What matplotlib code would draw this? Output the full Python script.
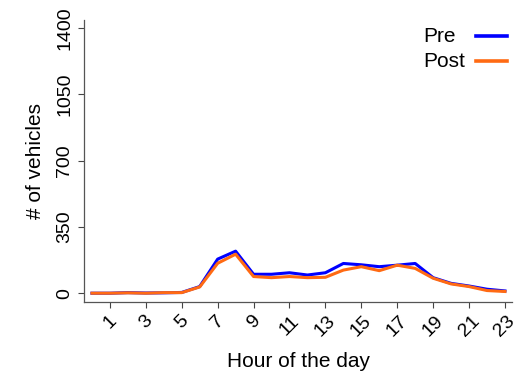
import matplotlib
matplotlib.use("Agg")
import matplotlib.pyplot as plt
from matplotlib.lines import Line2D

hours = list(range(24))
pre = [0, 0, 3, 1, 2, 4, 35, 180, 222, 100, 100, 108, 96, 108, 157, 150,
       140, 148, 157, 82, 52, 38, 21, 12]
post = [0, 0, 2, 0, 3, 3, 33, 158, 206, 88, 82, 88, 82, 84, 122, 140,
        119, 148, 131, 79, 49, 35, 14, 9]
xticks = list(range(1, 24, 2))
yticks = [0, 350, 700, 1050, 1400]
series = [("Pre", pre, "#0000ff"), ("Post", post, "#ff6a13")]

plt.rcParams["font.family"] = ["Liberation Sans", "DejaVu Sans"]
plt.rcParams["font.size"] = 14

fig = plt.figure(figsize=(5.21, 3.80), dpi=100)
ax = fig.add_axes([0.161, 0.205, 0.822, 0.742])

for label, vals, cor in series:
    ax.plot(hours, vals, color=cor, linewidth=2.2, label=label)

ax.set_xlim(-0.45, 23.4)
ax.set_ylim(-47, 1442)
ax.set_xticks(xticks)
ax.set_xticklabels([str(t) for t in xticks], rotation=45, ha="center")
ax.set_yticks(yticks)
ax.set_yticklabels([str(t) for t in yticks], rotation=90, va="center")
ax.tick_params(direction="out", length=4, width=0.8, colors="#444444",
               labelcolor="black", labelsize=14)

for s in ["top", "right"]:
    ax.spines[s].set_visible(False)
for s in ["left", "bottom"]:
    ax.spines[s].set_color("#555555")
    ax.spines[s].set_linewidth(0.9)

ax.set_xlabel("Hour of the day", labelpad=9, fontsize=15)
ax.set_ylabel("# of vehicles", labelpad=8, fontsize=15)

# legenda estilo Stata: texto alinhado à esquerda, linha à direita
for i, (label, _, cor) in enumerate(series):
    y = 0.905 - i * 0.066
    fig.text(0.812, y, label, fontsize=15, ha="left", va="center")
    fig.add_artist(Line2D([0.914, 0.973], [y, y], color=cor, linewidth=2.6,
                          transform=fig.transFigure))

fig.savefig("out.png", dpi=100, facecolor="white")
